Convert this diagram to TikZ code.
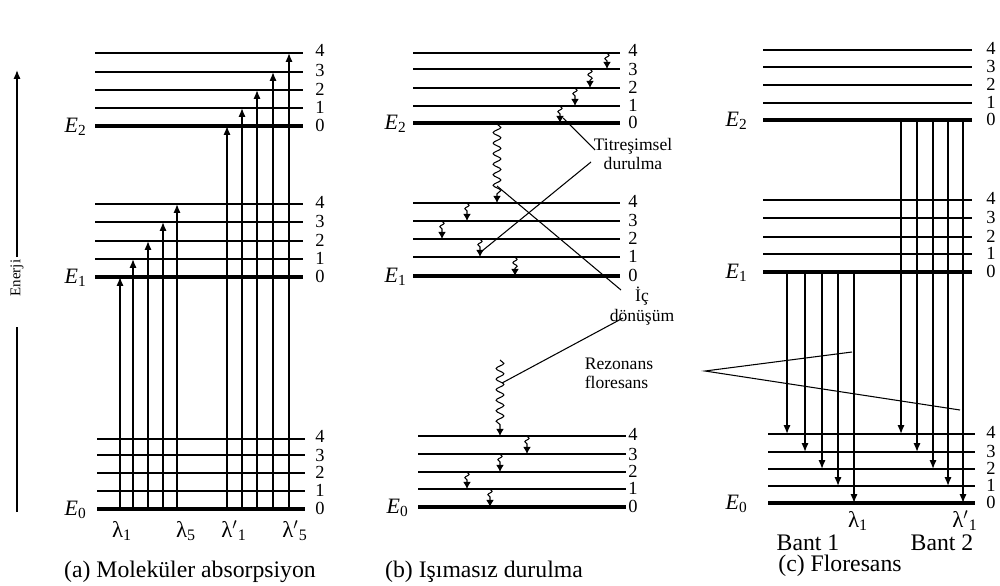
\documentclass[tikz,border=0pt]{standalone}
\usepackage{fontspec}
\setmainfont{Liberation Serif}
\usetikzlibrary{arrows.meta,decorations.pathmorphing}
\begin{document}
\begin{tikzpicture}[x=0.02cm,y=-0.02cm,
  lvl/.style={line width=0.8pt},
  lvlz/.style={line width=2pt},
  num/.style={font=\fontsize{10.5}{10.5}\selectfont, inner sep=0pt, text height=6.8pt, text depth=0pt},
  elab/.style={font=\fontsize{12.5}{12.5}\selectfont, inner sep=0pt, anchor=east},
  lam/.style={font=\fontsize{13}{13}\selectfont, inner sep=0pt},
  trans/.style={line width=0.8pt, -{Latex[length=5pt,width=4pt]}},
  vib/.style={line width=0.6pt, -{Latex[length=4pt,width=4.3pt]}, decorate,
    decoration={snake, amplitude=1.2pt, segment length=4pt, post length=4pt}},
  bigvib/.style={line width=0.6pt, -{Latex[length=4pt,width=4.3pt]}, decorate,
    decoration={snake, amplitude=2.2pt, segment length=6pt, post length=4pt}},
  lead/.style={line width=0.6pt},
  note/.style={font=\fontsize{10}{11}\selectfont, inner sep=0pt, align=center},
  captxt/.style={font=\fontsize{13.5}{13.5}\selectfont, inner sep=0pt, text height=8pt, text depth=2pt}
]
\useasboundingbox (0,0) rectangle (1000,585);

% ---------- Energy axis ----------
\coordinate (enB) at (17,512);
\coordinate (enL) at (17,327);
\coordinate (enU) at (17,257);
\coordinate (enT) at (17,70);
\node[rotate=90, font=\fontsize{8.5}{8.5}\selectfont, inner sep=0pt] (enerji) at (17,278) {Enerji};
\draw[line width=0.8pt] (enB) -- (enL);
\draw[line width=0.8pt, -{Latex[length=5pt,width=4pt]}] (enU) -- (enT);

% ---------- Panel (a) ----------
\foreach \y/\ny [count=\i from 0] in {126/126,108/108,90/90,72/71,53/51} {
  \draw[lvl] (95,\y) -- (303,\y);
  \node[num] (an2\i) at (320,\ny) {\i};
}
\foreach \y/\ny [count=\i from 0] in {277/277,259/259,241/241,222/222,204/203} {
  \draw[lvl] (95,\y) -- (303,\y);
  \node[num] (an1\i) at (320,\ny) {\i};
}
\foreach \y/\ny [count=\i from 0] in {509/509,491/491,473/473,455/456,439/437} {
  \draw[lvl] (97,\y) -- (305,\y);
  \node[num] (an0\i) at (320,\ny) {\i};
}
\draw[lvlz] (95,126) -- (303,126);
\draw[lvlz] (95,277) -- (303,277);
\draw[lvlz] (97,509) -- (305,509);
\node[elab] (aE2) at (87,127) {\textit{E}\textsubscript{2}};
\node[elab] (aE1) at (87,278) {\textit{E}\textsubscript{1}};
\node[elab] (aE0) at (87,510) {\textit{E}\textsubscript{0}};
\foreach \x/\y [count=\i] in {120/277,133/259,148/241,163/222,177/204,
                              227/126,242/108,257/90,273/72,289/53} {
  \coordinate (aS\i) at (\x,509);
  \coordinate (aT\i) at (\x,\y);
  \draw[trans] (aS\i) -- (aT\i);
}
\node[lam] (al1) at (122,531) {λ\textsubscript{1}};
\node[lam] (al5) at (186,531) {λ\textsubscript{5}};
\node[lam] (alp1) at (234,531) {λ$'$\textsubscript{1}};
\node[lam] (alp5) at (295,531) {λ$'$\textsubscript{5}};
\node[captxt] (capa) at (190,572) {(a) Moleküler absorpsiyon};

% ---------- Panel (b) ----------
\foreach \y/\ny [count=\i from 0] in {123/123,106/106,88/88,69/70,53/51} {
  \draw[lvl] (413,\y) -- (620,\y);
  \node[num] (bn2\i) at (633,\ny) {\i};
}
\foreach \y/\ny [count=\i from 0] in {276/276,257/257,239/239,221/221,203/202} {
  \draw[lvl] (413,\y) -- (620,\y);
  \node[num] (bn1\i) at (633,\ny) {\i};
}
\foreach \y/\ny [count=\i from 0] in {507/507,489/489,472/472,454/455,436/435} {
  \draw[lvl] (418,\y) -- (626,\y);
  \node[num] (bn0\i) at (633,\ny) {\i};
}
\draw[lvlz] (413,123) -- (620,123);
\draw[lvlz] (413,276) -- (620,276);
\draw[lvlz] (418,507) -- (626,507);
\node[elab] (bE2) at (407,124) {\textit{E}\textsubscript{2}};
\node[elab] (bE1) at (407,277) {\textit{E}\textsubscript{1}};
\node[elab] (bE0) at (409,508) {\textit{E}\textsubscript{0}};
% small vibrational relaxation arrows
\foreach \x/\ya/\yb [count=\i] in {607/53/69, 590/69/88, 575/88/106, 560/106/123,
                                   467/203/221, 442/221/239, 480/239/257, 515/257/276,
                                   527/436/454, 500/454/472, 467/472/489, 490/489/507} {
  \coordinate (vS\i) at (\x,\ya);
  \coordinate (vT\i) at (\x,\yb);
  \draw[vib] (vS\i) -- (vT\i);
}
% internal conversion (long wavy arrows)
\coordinate (icA1) at (497,124);
\coordinate (icA2) at (497,203);
\draw[bigvib] (icA1) -- (icA2);
\coordinate (icB1) at (500,360);
\coordinate (icB2) at (500,436);
\draw[bigvib] (icB1) -- (icB2);
% labels and leader lines
\node[note] (titr) at (633,154) {Titreşimsel\\durulma};
\node[note] (icd) at (642,306) {İç\\dönüşüm};
\coordinate (t1a) at (563,118);
\coordinate (t1b) at (595,150);
\coordinate (t2a) at (591,162);
\coordinate (t2b) at (482,251);
\draw[lead] (t1a) -- (t1b);
\draw[lead] (t2a) -- (t2b);
\coordinate (i1a) at (497,186);
\coordinate (i1b) at (621,290);
\coordinate (i2a) at (623,318);
\coordinate (i2b) at (502,383);
\draw[lead] (i1a) -- (i1b);
\draw[lead] (i2a) -- (i2b);
\node[captxt] (capb) at (484,572) {(b) Işımasız durulma};

% ---------- Panel (c) ----------
\foreach \y/\ny [count=\i from 0] in {120/120,103/103,85/85,67/67,50/49} {
  \draw[lvl] (763,\y) -- (972,\y);
  \node[num] (cn2\i) at (991,\ny) {\i};
}
\foreach \y/\ny [count=\i from 0] in {272/272,254/254,237/237,218/218,200/199} {
  \draw[lvl] (763,\y) -- (972,\y);
  \node[num] (cn1\i) at (991,\ny) {\i};
}
\foreach \y/\ny [count=\i from 0] in {503/503,486/486,469/469,452/452,434/433} {
  \draw[lvl] (768,\y) -- (975,\y);
  \node[num] (cn0\i) at (991,\ny) {\i};
}
\draw[lvlz] (763,120) -- (972,120);
\draw[lvlz] (763,272) -- (972,272);
\draw[lvlz] (768,503) -- (975,503);
\node[elab] (cE2) at (748,121) {\textit{E}\textsubscript{2}};
\node[elab] (cE1) at (748,273) {\textit{E}\textsubscript{1}};
\node[elab] (cE0) at (748,504) {\textit{E}\textsubscript{0}};
\foreach \x/\y [count=\i] in {787/434,805/452,822/469,838/486,854/503} {
  \coordinate (c1S\i) at (\x,272);
  \coordinate (c1T\i) at (\x,\y);
  \draw[trans] (c1S\i) -- (c1T\i);
}
\foreach \x/\y [count=\i] in {901/434,917/452,933/469,948/486,963/503} {
  \coordinate (c2S\i) at (\x,120);
  \coordinate (c2T\i) at (\x,\y);
  \draw[trans] (c2S\i) -- (c2T\i);
}
\node[note, align=left] (rez) at (619,373) {Rezonans\\floresans};
\coordinate (rapex) at (705,371);
\coordinate (r1) at (852,352);
\coordinate (r2) at (960,410);
\draw[lead] (r1) -- (rapex) -- (r2);
\node[lam] (cl1) at (858,521) {λ\textsubscript{1}};
\node[lam] (clp1) at (965,521) {λ$'$\textsubscript{1}};
\node[captxt] (bant1) at (808,545) {Bant 1};
\node[captxt] (bant2) at (942,545) {Bant 2};
\node[captxt] (capc) at (840,566) {(c) Floresans};
\end{tikzpicture}
\end{document}
